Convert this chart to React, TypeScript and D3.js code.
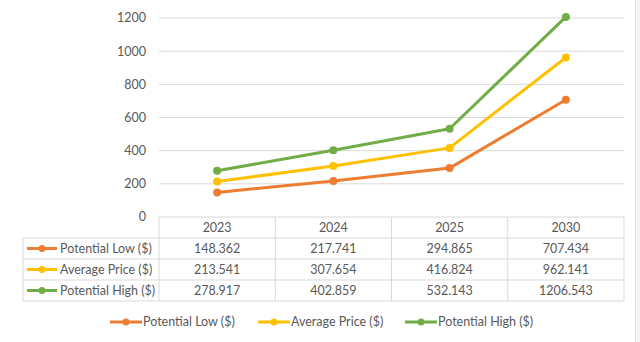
import React from "react";
import * as d3 from "d3";

const categories = ["2023", "2024", "2025", "2030"];
const seriesNames = ["Potential Low ($)", "Average Price ($)", "Potential High ($)"];
const lowValues = [148.362, 217.741, 294.865, 707.434];
const avgValues = [213.541, 307.654, 416.824, 962.141];
const highValues = [278.917, 402.859, 532.143, 1206.543];
const seriesColors = ["#ED7D31", "#FFC000", "#70AD47"];
const yTicks = [0, 200, 400, 600, 800, 1000, 1200];
const valueLabels = [
  ["148.362", "217.741", "294.865", "707.434"],
  ["213.541", "307.654", "416.824", "962.141"],
  ["278.917", "402.859", "532.143", "1206.543"],
];

const W = 640;
const H = 342;
const plotLeft = 159;
const plotRight = 624;
const plotTop = 18;
const plotBottom = 217;
const rowH = 21;
const tableLeft = 23;
const font = "Lato, 'Open Sans', sans-serif";
const textColor = "#595959";
const gridColor = "#d9d9d9";

export default function App() {
  const x = d3.scaleBand<string>().domain(categories).range([plotLeft, plotRight]);
  const y = d3.scaleLinear().domain([0, 1200]).range([plotBottom, plotTop]);
  const data = [lowValues, avgValues, highValues];
  const line = d3
    .line<number>()
    .x((_, i) => (x(categories[i]) as number) + x.bandwidth() / 2)
    .y((d) => y(d));

  const legendX = [110, 258, 405];
  const legendY = 322;

  return (
    <svg width={W} height={H} style={{ position: "absolute", left: 0, top: 0, background: "#fff" }}>
      <rect x={0} y={0} width={W} height={H} fill="#fff" />
      <rect x={635} y={0} width={5} height={H} fill="#f4f4f4" />
      <line x1={635.5} x2={635.5} y1={0} y2={H} stroke="#e2e2e2" />
      {yTicks.map((t) => (
        <g key={t}>
          {t > 0 && (
            <line x1={plotLeft} x2={plotRight} y1={y(t)} y2={y(t)} stroke={gridColor} strokeWidth={1} />
          )}
          <text x={146} y={y(t)} dy="0.35em" textAnchor="end" fontFamily={font} fontSize={12.5} fill={textColor}>
            {t}
          </text>
        </g>
      ))}
      {/* table */}
      <g stroke={gridColor} strokeWidth={1} fill="none">
        <line x1={plotLeft} x2={plotRight} y1={plotBottom} y2={plotBottom} />
        {[1, 2, 3].map((r) => (
          <line key={r} x1={tableLeft} x2={plotRight} y1={plotBottom + r * rowH} y2={plotBottom + r * rowH} />
        ))}
        <line x1={tableLeft} x2={plotRight} y1={plotBottom + 4 * rowH} y2={plotBottom + 4 * rowH} />
        <line x1={tableLeft} x2={tableLeft} y1={plotBottom + rowH} y2={plotBottom + 4 * rowH} />
        {categories.map((c) => (
          <line key={c} x1={x(c)} x2={x(c)} y1={plotBottom} y2={plotBottom + 4 * rowH} />
        ))}
        <line x1={plotRight} x2={plotRight} y1={plotBottom} y2={plotBottom + 4 * rowH} />
      </g>
      {categories.map((c) => (
        <text
          key={c}
          x={(x(c) as number) + x.bandwidth() / 2}
          y={plotBottom + rowH / 2}
          dy="0.35em"
          textAnchor="middle"
          fontFamily={font}
          fontSize={12.5}
          fill={textColor}
        >
          {c}
        </text>
      ))}
      {seriesNames.map((name, si) => {
        const cy = plotBottom + (si + 1) * rowH + rowH / 2;
        return (
          <g key={name}>
            <line x1={27} x2={57} y1={cy} y2={cy} stroke={seriesColors[si]} strokeWidth={3} />
            <circle cx={42} cy={cy} r={3.5} fill={seriesColors[si]} />
            <text x={60} y={cy} dy="0.35em" fontFamily={font} fontSize={12.5} fill={textColor}>
              {name}
            </text>
            {categories.map((c, ci) => (
              <text
                key={c}
                x={(x(c) as number) + x.bandwidth() / 2}
                y={cy}
                dy="0.35em"
                textAnchor="middle"
                fontFamily={font}
                fontSize={12.5}
                fill={textColor}
              >
                {valueLabels[si][ci]}
              </text>
            ))}
          </g>
        );
      })}
      {/* series */}
      {data.map((vals, si) => (
        <g key={si}>
          <path d={line(vals) || ""} fill="none" stroke={seriesColors[si]} strokeWidth={3} strokeLinejoin="round" />
          {vals.map((v, i) => (
            <circle
              key={i}
              cx={(x(categories[i]) as number) + x.bandwidth() / 2}
              cy={y(v)}
              r={4}
              fill={seriesColors[si]}
            />
          ))}
        </g>
      ))}
      {/* legend */}
      {seriesNames.map((name, si) => (
        <g key={name}>
          <line x1={legendX[si]} x2={legendX[si] + 32} y1={legendY} y2={legendY} stroke={seriesColors[si]} strokeWidth={3} />
          <circle cx={legendX[si] + 16} cy={legendY} r={3.5} fill={seriesColors[si]} />
          <text x={legendX[si] + 33} y={legendY} dy="0.35em" fontFamily={font} fontSize={12.5} fill={textColor}>
            {name}
          </text>
        </g>
      ))}
    </svg>
  );
}
